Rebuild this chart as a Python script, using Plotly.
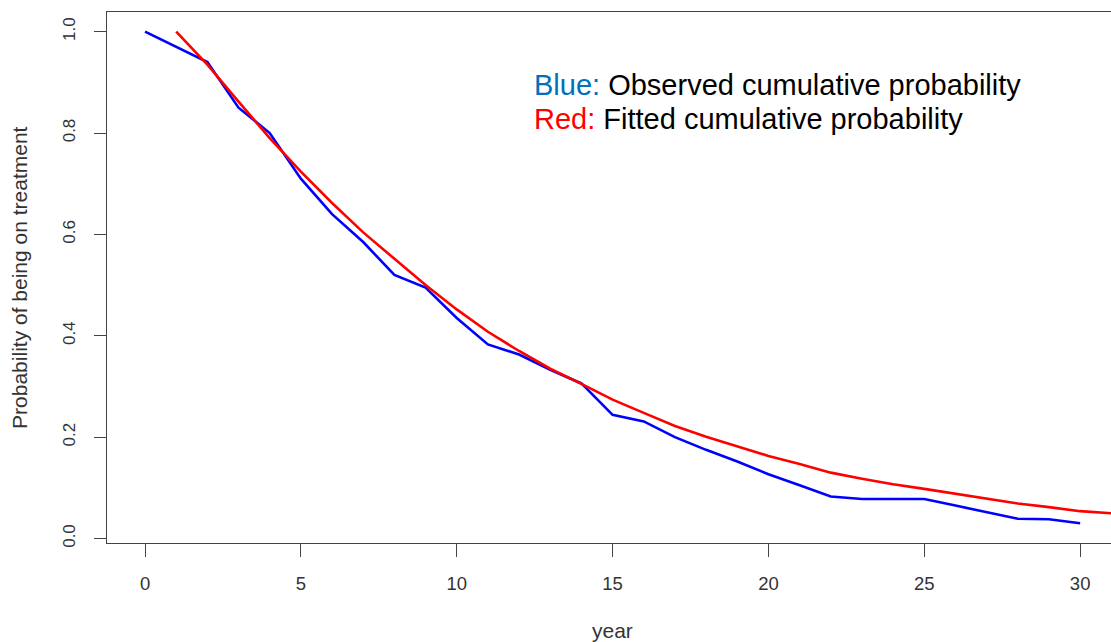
import plotly.graph_objects as go

# Observed cumulative probability (blue), by year
years_obs = list(range(0, 31))
observed = [1.0, 0.97, 0.94, 0.85, 0.80, 0.71, 0.64, 0.585, 0.52, 0.495,
            0.435, 0.383, 0.363, 0.333, 0.306, 0.244, 0.231, 0.20, 0.175, 0.152,
            0.127, 0.105, 0.083, 0.078, 0.078, 0.078, 0.065, 0.052, 0.039, 0.038,
            0.030]

# Fitted cumulative probability (red), by year
years_fit = list(range(1, 32))
fitted = [1.0, 0.935, 0.862, 0.79, 0.724, 0.662, 0.604, 0.552, 0.50, 0.452,
          0.408, 0.370, 0.335, 0.305, 0.274, 0.248, 0.222, 0.201, 0.182, 0.163,
          0.147, 0.130, 0.118, 0.107, 0.098, 0.088, 0.078, 0.069, 0.062, 0.054,
          0.050]

x_ticks = [0, 5, 10, 15, 20, 25, 30]
y_ticks = [0.0, 0.2, 0.4, 0.6, 0.8, 1.0]
y_tick_labels = ["0.0", "0.2", "0.4", "0.6", "0.8", "1.0"]

FONT = "Liberation Sans, Arial, sans-serif"
AXC = "#444444"
TXC = "#333333"

fig = go.Figure()
fig.add_trace(go.Scatter(x=years_obs, y=observed, mode="lines",
                         line=dict(color="#0000FF", width=2.6), hoverinfo="skip"))
fig.add_trace(go.Scatter(x=years_fit, y=fitted, mode="lines",
                         line=dict(color="#FF0000", width=2.6), hoverinfo="skip"))

fig.update_layout(
    width=1111, height=642,
    margin=dict(l=107, r=0, t=12, b=99),
    plot_bgcolor="white", paper_bgcolor="white",
    showlegend=False,
    font=dict(family=FONT, color=TXC),
    xaxis=dict(range=[-1.22, 30.99], tickvals=x_ticks, ticks="outside",
               ticklen=13, tickwidth=1, tickcolor=AXC,
               showline=True, linecolor=AXC, linewidth=1, mirror=True,
               showgrid=False, zeroline=False,
               tickfont=dict(size=18.5, color=TXC, family=FONT),
               ticklabelstandoff=11),
    yaxis=dict(range=[-0.0088, 1.0388], tickvals=y_ticks, ticktext=y_tick_labels,
               tickangle=-90, ticks="outside", ticklen=12, tickwidth=1, tickcolor=AXC,
               showline=True, linecolor=AXC, linewidth=1, mirror=False,
               showgrid=False, zeroline=False,
               tickfont=dict(size=17, color=TXC, family=FONT),
               ticklabelstandoff=12),
)

fig.add_annotation(text="year", xref="paper", yref="paper", x=0.503, y=-0.165,
                   xanchor="center", yanchor="middle", showarrow=False,
                   font=dict(size=21, color=TXC, family=FONT))
fig.add_annotation(text="Probability of being on treatment", xref="paper", yref="paper",
                   x=-0.0867, y=0.501, xanchor="center", yanchor="middle",
                   textangle=-90, showarrow=False,
                   font=dict(size=21, color=TXC, family=FONT))

fig.add_annotation(text="<span style='color:#0070C0'>Blue:</span> Observed cumulative probability",
                   xref="x", yref="y", x=12.4, y=0.895, xanchor="left", yanchor="middle",
                   showarrow=False, font=dict(size=29, color="black", family=FONT))
fig.add_annotation(text="<span style='color:#FF0000'>Red:</span> Fitted cumulative probability",
                   xref="x", yref="y", x=12.4, y=0.828, xanchor="left", yanchor="middle",
                   showarrow=False, font=dict(size=29, color="black", family=FONT))

fig.write_html("out.html")
